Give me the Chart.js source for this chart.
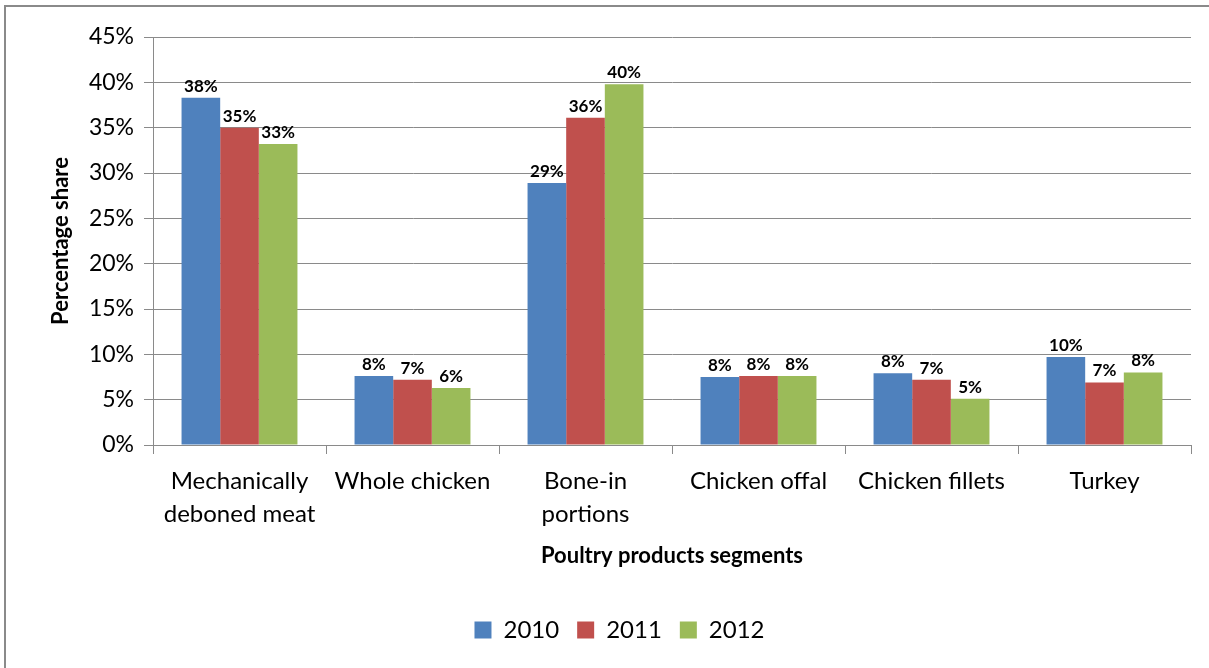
<!DOCTYPE html>
<html>
<head>
<meta charset="utf-8">
<script src="https://cdn.jsdelivr.net/npm/chart.js@4.4.1/dist/chart.umd.min.js"></script>
<style>
  html, body { margin: 0; padding: 0; background: #fff; }
  #wrap { position: relative; width: 1209px; height: 668px; overflow: hidden; }
  #frame { position: absolute; left: 4px; top: 5px; right: -10px; bottom: -10px;
           border-left: 2px solid #8a8a8a; border-top: 2px solid #8a8a8a; pointer-events: none; }
</style>
</head>
<body>
<div id="wrap">
  <canvas id="chart" width="1209" height="668"></canvas>
  <div id="frame"></div>
</div>
<script>
const categories = [
    ['Mechanically', 'deboned meat'],
    'Whole chicken',
    ['Bone-in', 'portions'],
    'Chicken offal',
    'Chicken fillets',
    'Turkey'
];
const years = ['2010', '2011', '2012'];
const share2010 = [38.3, 7.6, 28.9, 7.5, 7.9, 9.7];
const share2011 = [35.0, 7.2, 36.1, 7.6, 7.2, 6.9];
const share2012 = [33.2, 6.3, 39.8, 7.6, 5.1, 8.0];
const colors = ['#4F81BD', '#C0504D', '#9BBB59'];

const FONT = 'Lato, "Liberation Sans", sans-serif';

// draws the "38%" style labels on top of every bar
const barLabels = {
    id: 'barLabels',
    afterDatasetsDraw(chart) {
        const ctx = chart.ctx;
        ctx.save();
        ctx.font = 'bold 17px ' + FONT;
        ctx.fillStyle = '#000';
        ctx.textAlign = 'center';
        ctx.textBaseline = 'bottom';
        chart.data.datasets.forEach((ds, i) => {
            chart.getDatasetMeta(i).data.forEach((bar, j) => {
                ctx.fillText(Math.round(ds.data[j]) + '%', bar.x, bar.y - 3);
            });
        });
        ctx.restore();
    }
};

const ctx = document.getElementById('chart').getContext('2d');
new Chart(ctx, {
    type: 'bar',
    data: {
        labels: categories,
        datasets: [share2010, share2011, share2012].map((d, i) => ({
            label: years[i],
            data: d,
            backgroundColor: colors[i],
            borderWidth: 0
        }))
    },
    options: {
        responsive: false,
        animation: false,
        categoryPercentage: 0.67,
        barPercentage: 1.0,
        layout: {
            padding: { left: 48, right: 18, top: 37, bottom: 16 }
        },
        plugins: {
            tooltip: { enabled: false },
            legend: {
                position: 'bottom',
                labels: {
                    color: '#000',
                    boxWidth: 17,
                    boxHeight: 17,
                    padding: 18,
                    font: { family: FONT, size: 24 }
                }
            }
        },
        scales: {
            y: {
                min: 0,
                max: 45,
                afterFit: scale => { scale.width = 105; },
                ticks: {
                    stepSize: 5,
                    color: '#000',
                    padding: 10,
                    font: { family: FONT, size: 23 },
                    callback: v => v + '%'
                },
                grid: { color: '#8a8a8a', lineWidth: 1, tickLength: 9 },
                border: { color: '#8a8a8a' },
                title: {
                    display: true,
                    text: 'Percentage share',
                    color: '#000',
                    padding: 0,
                    font: { family: FONT, size: 22, weight: 'bold' }
                }
            },
            x: {
                afterFit: scale => { scale.height = 155; },
                ticks: {
                    color: '#000',
                    padding: 10,
                    maxRotation: 0,
                    autoSkip: false,
                    font: { family: FONT, size: 24, lineHeight: 1.4 }
                },
                grid: { drawOnChartArea: false, color: '#8a8a8a', tickLength: 9 },
                border: { color: '#8a8a8a' },
                title: {
                    display: true,
                    text: 'Poultry products segments',
                    color: '#000',
                    padding: { top: 0, bottom: 31 },
                    font: { family: FONT, size: 22, weight: 'bold' }
                }
            }
        }
    },
    plugins: [barLabels]
});
</script>
</body>
</html>
